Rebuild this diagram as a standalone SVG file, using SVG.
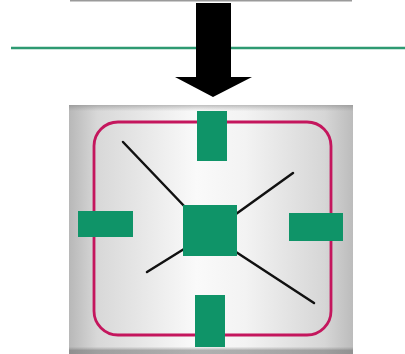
<svg xmlns="http://www.w3.org/2000/svg" width="405" height="354" viewBox="0 0 405 354">
  <defs>
    <linearGradient id="panelShade" x1="0" y1="0" x2="1" y2="0">
      <stop offset="0" stop-color="#b8b8b8"/>
      <stop offset="0.1" stop-color="#d8d8d8"/>
      <stop offset="0.45" stop-color="#fafafa"/>
      <stop offset="0.62" stop-color="#f3f3f3"/>
      <stop offset="0.9" stop-color="#d6d6d6"/>
      <stop offset="1" stop-color="#bcbcbc"/>
    </linearGradient>
    <linearGradient id="panelTop" x1="0" y1="0" x2="0" y2="1">
      <stop offset="0" stop-color="#777" stop-opacity="0.45"/>
      <stop offset="0.025" stop-color="#888" stop-opacity="0"/>
      <stop offset="0.97" stop-color="#888" stop-opacity="0"/>
      <stop offset="0.985" stop-color="#666" stop-opacity="0.5"/>
      <stop offset="1" stop-color="#666" stop-opacity="0.5"/>
    </linearGradient>
    <style>
      .pad { fill: #0f9468; }
      .spoke { stroke: #111; stroke-width: 2.5; stroke-linecap: round; fill: none; }
      .frame { fill: none; stroke: #c4165d; stroke-width: 2.8; }
    </style>
  </defs>

  <rect width="405" height="354" fill="#ffffff"/>

  <!-- edge of the upper panel -->
  <line x1="70" y1="0.5" x2="352" y2="0.5" stroke="#9a9a9a" stroke-width="2"/>

  <!-- green boundary line -->
  <line x1="11" y1="48" x2="405" y2="48" stroke="#2e9a72" stroke-width="2.6"/>

  <!-- downward arrow -->
  <g id="arrow">
    <polygon points="196,3 231,3 231,77 252,77 213,97 175,77 196,77" fill="#000"/>
  </g>

  <!-- panel -->
  <g id="panel">
    <rect x="69" y="105" width="284" height="249" fill="url(#panelShade)"/>
    <rect x="69" y="105" width="284" height="249" fill="url(#panelTop)"/>
    <rect class="frame" x="94" y="122" width="237" height="213" rx="24" ry="24"/>
  </g>

  <g id="connectors">
    <line class="spoke" x1="123" y1="142" x2="186" y2="208"/>
    <line class="spoke" x1="293" y1="173" x2="236" y2="214"/>
    <line class="spoke" x1="147" y1="272" x2="184" y2="249"/>
    <line class="spoke" x1="236" y1="252" x2="314" y2="303"/>
  </g>

  <g id="pad-top"><rect class="pad" x="197" y="111" width="30" height="50"/></g>
  <g id="pad-left"><rect class="pad" x="78" y="211" width="55" height="26"/></g>
  <g id="pad-right"><rect class="pad" x="289" y="213" width="54" height="28"/></g>
  <g id="pad-bottom"><rect class="pad" x="195" y="295" width="30" height="52"/></g>
  <g id="center"><rect class="pad" x="183" y="205" width="54" height="51"/></g>
</svg>
